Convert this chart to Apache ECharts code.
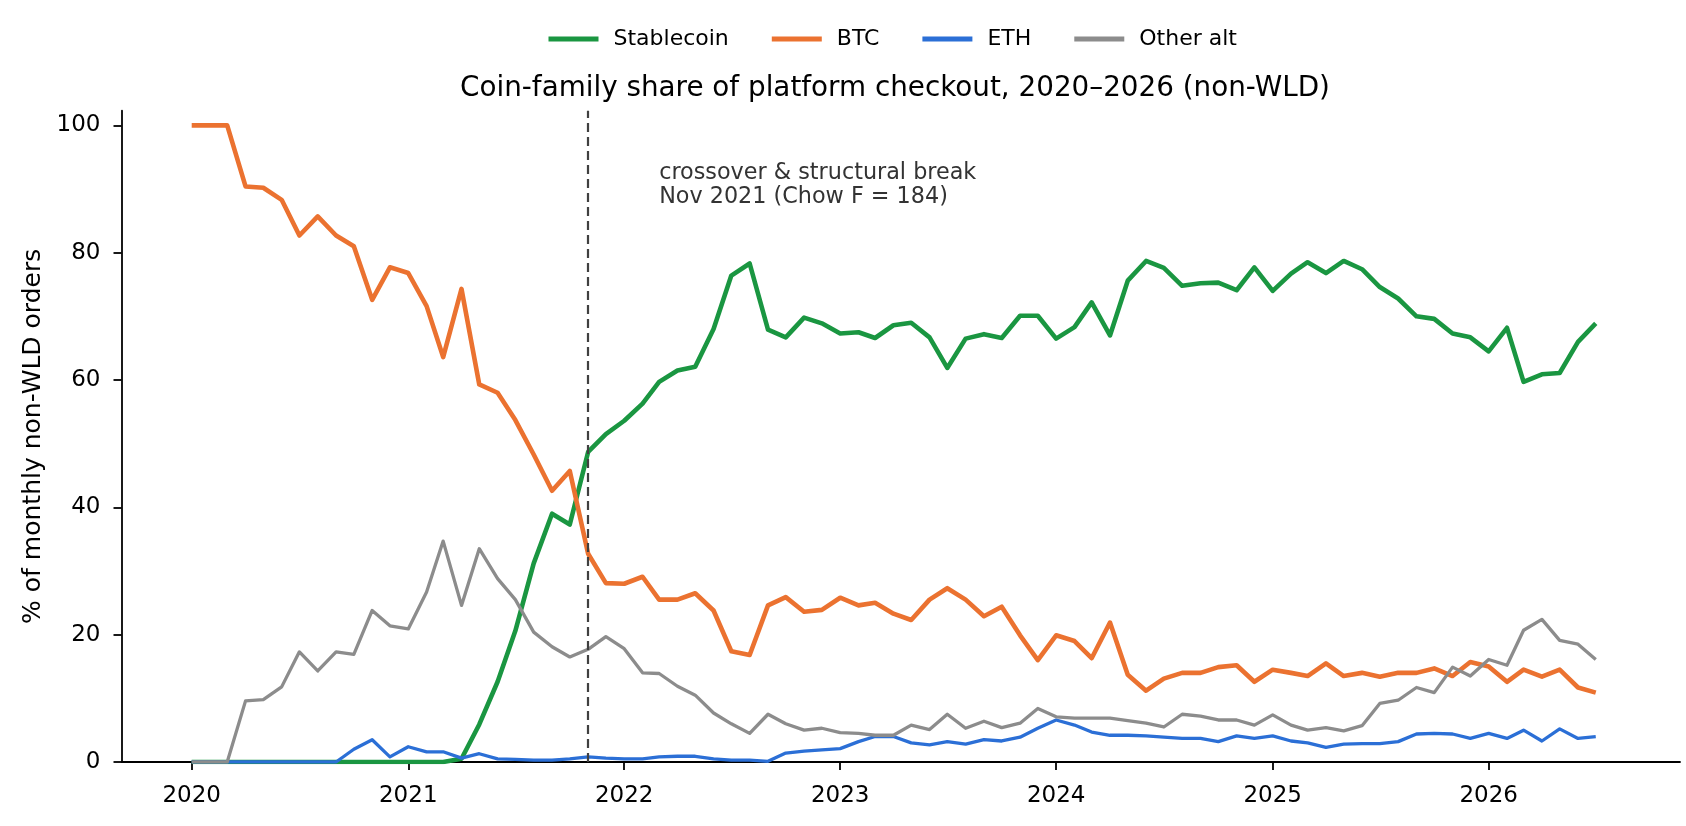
<!DOCTYPE html>
<html>
<head>
<meta charset="utf-8">
<script src="https://cdn.jsdelivr.net/npm/echarts@6/dist/echarts.min.js"></script>
<style>
html,body{margin:0;padding:0;background:#fff;}
#chart{width:1686px;height:826px;}
</style>
</head>
<body>
<div id="chart"></div>
<script>
// ---- data ----
const months = [];
for (let y = 2020; y <= 2026; y++) {
  for (let m = 1; m <= 12; m++) {
    if (y === 2026 && m > 7) break;
    months.push(y + '-' + String(m).padStart(2, '0'));
  }
}
const stablecoin = [0,0,0,0,0,0,0,0,0,0,0,0,0,0,0,0.5,5.9,12.6,20.6,31.2,39.0,37.3,48.7,51.5,53.6,56.3,59.7,61.5,62.1,68.0,76.4,78.3,67.9,66.7,69.8,68.9,67.3,67.5,66.6,68.6,69.0,66.7,61.9,66.5,67.2,66.6,70.1,70.1,66.5,68.3,72.2,67.0,75.6,78.7,77.6,74.8,75.2,75.3,74.1,77.7,74.0,76.7,78.5,76.8,78.7,77.4,74.6,72.8,70.0,69.6,67.3,66.7,64.5,68.2,59.7,60.9,61.1,66.0,68.9];
const btc = [100,100,100,90.4,90.2,88.3,82.7,85.7,82.7,81.0,72.6,77.7,76.8,71.6,63.6,74.3,59.3,58.0,53.7,48.3,42.6,45.7,32.7,28.1,28.0,29.1,25.5,25.5,26.5,23.8,17.4,16.8,24.6,25.9,23.6,23.9,25.8,24.6,25.0,23.3,22.3,25.5,27.3,25.5,22.9,24.4,19.9,16.0,19.9,19.0,16.3,21.9,13.7,11.2,13.1,14.0,14.0,14.9,15.2,12.6,14.5,14.0,13.5,15.5,13.5,14.0,13.4,14.0,14.0,14.7,13.5,15.7,15.0,12.6,14.5,13.4,14.5,11.7,10.9];
const eth = [0,0,0,0,0,0,0,0,0,2.0,3.5,0.8,2.4,1.6,1.6,0.6,1.3,0.5,0.4,0.3,0.3,0.5,0.8,0.6,0.5,0.5,0.8,0.9,0.9,0.5,0.3,0.3,0.1,1.4,1.7,1.9,2.1,3.2,4.0,4.0,3.0,2.7,3.2,2.8,3.5,3.3,3.9,5.3,6.6,5.8,4.7,4.2,4.2,4.1,3.9,3.7,3.7,3.2,4.1,3.7,4.1,3.3,3.0,2.3,2.8,2.9,2.9,3.2,4.4,4.5,4.4,3.7,4.5,3.7,5.0,3.3,5.2,3.7,4.0];
const otherAlt = [0,0,0,9.6,9.8,11.8,17.3,14.3,17.3,16.9,23.8,21.4,20.9,26.7,34.7,24.6,33.5,28.8,25.5,20.4,18.1,16.5,17.7,19.7,17.8,14.0,13.9,11.9,10.5,7.7,6.0,4.5,7.5,6.0,5.0,5.3,4.6,4.5,4.2,4.2,5.8,5.1,7.5,5.3,6.4,5.4,6.1,8.4,7.1,6.9,6.9,6.9,6.5,6.1,5.5,7.5,7.2,6.6,6.6,5.8,7.4,5.8,5.0,5.4,4.9,5.7,9.2,9.7,11.7,10.9,14.9,13.5,16.1,15.2,20.7,22.4,19.1,18.5,16.1];
const seriesNames = ['Stablecoin', 'BTC', 'ETH', 'Other alt'];
const yearTicks = [2020, 2021, 2022, 2023, 2024, 2025, 2026];
const yTicks = [0, 20, 40, 60, 80, 100];
const breakMonth = '2021-11';
const annotationMonth = '2022-03';
const annotationY = 94.3;
const annotationLines = ['crossover & structural break', 'Nov 2021 (Chow F = 184)'];
const titleText = 'Coin-family share of platform checkout, 2020\u20132026 (non-WLD)';
const yName = '% of monthly non-WLD orders';

// ---- helpers ----
const DAY = 86400000;
const ORIGIN = Date.UTC(2020, 0, 1);
function dayOf(ym) {
  const p = ym.split('-').map(Number);
  return (Date.UTC(p[0], p[1] - 1, 1) - ORIGIN) / DAY;
}
const xs = months.map(dayOf);
const span = xs[xs.length - 1] - xs[0];
const xMin = xs[0] - 0.05 * span;
const xMax = xs[xs.length - 1] + 0.06 * span;
const pair = arr => arr.map((v, i) => [xs[i], v]);
const FONT = 'DejaVu Sans';
const COLORS = ['#1a9641', '#eb7230', '#2b6fd6', '#8c8c8c'];

const chart = echarts.init(document.getElementById('chart'), null, {renderer: 'canvas'});
function lineSeries(name, data, color, width) {
  return {
    name: name, type: 'line', data: pair(data), symbol: 'none', showSymbol: false,
    lineStyle: {color: color, width: width, join: 'round', cap: 'butt'},
    itemStyle: {color: color},
    emphasis: {disabled: true}, animation: false
  };
}
const s1 = lineSeries(seriesNames[0], stablecoin, COLORS[0], 4.6);
s1.markLine = {
  silent: true, symbol: ['none', 'none'], animation: false,
  label: {show: false},
  lineStyle: {color: '#404040', type: [9, 5], width: 2.2},
  data: [{xAxis: dayOf(breakMonth)}]
};
const option = {
  backgroundColor: '#ffffff',
  animation: false,
  textStyle: {fontFamily: FONT},
  title: {
    text: titleText, left: 890, top: 70, textAlign: 'center',
    textStyle: {fontFamily: FONT, fontSize: 27.8, fontWeight: 'normal', color: '#000'}
  },
  legend: {
    left: 543.5, top: 23, itemWidth: 50, itemHeight: 5, itemGap: 43,
    textStyle: {fontFamily: FONT, fontSize: 22, color: '#000', padding: [0, 0, 0, 10]},
    data: seriesNames.map(n => ({name: n, icon: 'rect'}))
  },
  grid: {left: 121.5, right: 6, top: 110.7, bottom: 64},
  xAxis: {
    type: 'value', min: xMin, max: xMax,
    splitLine: {show: false},
    axisLine: {show: true, onZero: false, lineStyle: {color: '#000', width: 1.8}},
    axisTick: {show: true, length: 8, lineStyle: {color: '#000', width: 1.8}, customValues: yearTicks.map(y => dayOf(y + '-01'))},
    axisLabel: {
      color: '#000', fontFamily: FONT, fontSize: 23, margin: 23,
      customValues: yearTicks.map(y => dayOf(y + '-01')),
      formatter: v => String(new Date(ORIGIN + v * DAY).getUTCFullYear())
    }
  },
  yAxis: {
    type: 'value', min: 0, max: 102.3,
    name: yName, nameLocation: 'middle', nameGap: 76,
    nameTextStyle: {fontFamily: FONT, fontSize: 25, color: '#000'},
    splitLine: {show: false},
    axisLine: {show: true, onZero: false, lineStyle: {color: '#000', width: 1.8}},
    axisTick: {show: true, length: 8, lineStyle: {color: '#000', width: 1.8}, customValues: yTicks},
    axisLabel: {color: '#000', fontFamily: FONT, fontSize: 23, margin: 21, customValues: yTicks}
  },
  series: [
    s1,
    lineSeries(seriesNames[1], btc, COLORS[1], 4.6),
    lineSeries(seriesNames[2], eth, COLORS[2], 3.3),
    lineSeries(seriesNames[3], otherAlt, COLORS[3], 3.3)
  ]
};
chart.setOption(option);
const ap = chart.convertToPixel({gridIndex: 0}, [dayOf(annotationMonth), annotationY]);
chart.setOption({
  graphic: [{
    type: 'text', left: ap[0], top: ap[1], silent: true,
    style: {
      text: annotationLines.join('\n'), fill: '#333333',
      font: '22.3px "DejaVu Sans"', lineHeight: 24
    }
  }]
});
</script>
</body>
</html>
